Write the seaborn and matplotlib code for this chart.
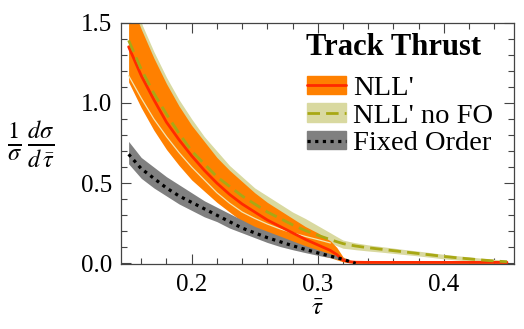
import numpy as np
import matplotlib
matplotlib.use("Agg")
import matplotlib.pyplot as plt
import seaborn as sns
from matplotlib.patches import Patch
from matplotlib.lines import Line2D
from matplotlib.legend_handler import HandlerTuple
from matplotlib.ticker import MultipleLocator

# %% data
tau = [0.15, 0.16, 0.17, 0.18, 0.19, 0.20, 0.21, 0.22, 0.23, 0.24, 0.25, 0.26, 0.27, 0.28,
       0.29, 0.30, 0.31, 0.315, 0.32, 0.325, 0.33, 0.34, 0.35, 0.36, 0.37, 0.38, 0.39, 0.40,
       0.41, 0.42, 0.43, 0.44, 0.45]

nll_mid = [1.35, 1.17, 1.02, 0.88, 0.77, 0.67, 0.58, 0.50, 0.43, 0.37, 0.32, 0.27, 0.23, 0.19,
           0.15, 0.115, 0.08, 0.055, 0.02, 0.01, 0.007, 0.006, 0.006, 0.006, 0.006, 0.006, 0.006,
           0.006, 0.006, 0.006, 0.006, 0.006, 0.006]
nll_hi = [1.66, 1.46, 1.28, 1.12, 0.98, 0.86, 0.76, 0.66, 0.58, 0.51, 0.44, 0.38, 0.33, 0.28,
          0.23, 0.19, 0.14, 0.10, 0.04, 0.02, 0.015, 0.013, 0.013, 0.013, 0.013, 0.013, 0.013,
          0.013, 0.013, 0.013, 0.013, 0.013, 0.013]
nll_lo = [1.13, 0.97, 0.83, 0.71, 0.61, 0.52, 0.45, 0.38, 0.32, 0.26, 0.21, 0.17, 0.135, 0.105,
          0.08, 0.055, 0.035, 0.022, 0.01, 0.003, 0.0, 0.0, 0.0, 0.0, 0.0, 0.0, 0.0,
          0.0, 0.0, 0.0, 0.0, 0.0, 0.0]

nofo_mid = [1.39, 1.21, 1.06, 0.93, 0.81, 0.70, 0.62, 0.54, 0.48, 0.42, 0.37, 0.32, 0.28, 0.24,
            0.205, 0.175, 0.148, 0.135, 0.123, 0.115, 0.108, 0.097, 0.088, 0.079, 0.070, 0.061,
            0.052, 0.043, 0.035, 0.028, 0.021, 0.015, 0.010]
nofo_hi = [1.72, 1.50, 1.32, 1.16, 1.02, 0.90, 0.79, 0.70, 0.61, 0.54, 0.47, 0.42, 0.37, 0.32,
           0.28, 0.235, 0.19, 0.167, 0.145, 0.136, 0.128, 0.115, 0.105, 0.095, 0.085, 0.076,
           0.066, 0.056, 0.048, 0.040, 0.032, 0.025, 0.020]
nofo_lo = [1.17, 1.03, 0.90, 0.79, 0.69, 0.60, 0.52, 0.44, 0.375, 0.32, 0.28, 0.245, 0.215, 0.19,
           0.168, 0.148, 0.127, 0.11, 0.094, 0.09, 0.085, 0.077, 0.07, 0.062, 0.054, 0.046,
           0.037, 0.028, 0.021, 0.015, 0.010, 0.006, 0.004]

tau_fo = [0.15, 0.16, 0.17, 0.18, 0.19, 0.20, 0.21, 0.22, 0.23, 0.24, 0.25, 0.26, 0.27, 0.28,
          0.29, 0.30, 0.31, 0.32, 0.33]
fo_mid = [0.68, 0.59, 0.53, 0.47, 0.42, 0.38, 0.34, 0.30, 0.26, 0.22, 0.19, 0.16, 0.135, 0.11,
          0.087, 0.065, 0.045, 0.025, 0.0]
fo_hi = [0.76, 0.66, 0.60, 0.54, 0.49, 0.44, 0.39, 0.35, 0.31, 0.27, 0.23, 0.20, 0.17, 0.14,
         0.11, 0.085, 0.06, 0.035, 0.005]
fo_lo = [0.62, 0.53, 0.47, 0.42, 0.37, 0.33, 0.29, 0.26, 0.22, 0.19, 0.16, 0.13, 0.105, 0.085,
         0.067, 0.05, 0.035, 0.018, 0.0]

labels = ["NLL'", "NLL' no FO", 'Fixed Order']

# %%
sns.set_style("ticks")
plt.rcParams['font.family'] = ['Liberation Serif', 'DejaVu Serif']
plt.rcParams['mathtext.fontset'] = 'stix'
plt.rcParams['text.color'] = 'black'
plt.rcParams['axes.labelcolor'] = 'black'

orange = '#ff8000'
khaki = '#d9d9a0'
olive = '#a8a814'
gray = '#808080'
red = '#ff2a00'

fig = plt.figure(figsize=(5.24, 3.29), dpi=100)
ax = fig.add_axes([0.2303, 0.1976, 0.7507, 0.7334])

ax.fill_between(tau, nofo_lo, nofo_hi, color=khaki, lw=0)
ax.fill_between(tau, nll_lo, nll_hi, color=orange, lw=0)
ax.fill_between(tau_fo, fo_lo, fo_hi, color=gray, lw=0)
ax.plot(tau[:17], nofo_lo[:17], color='#f3e6b0', lw=0.9)

sns.lineplot(x=tau, y=nll_mid, color=red, lw=2, ax=ax)
sns.lineplot(x=tau, y=nofo_mid, color=olive, lw=2, linestyle=(0, (4.5, 2.2)), ax=ax)
sns.lineplot(x=tau_fo, y=fo_mid, color='black', lw=2.3, linestyle=(0, (1.0, 1.4)), ax=ax)

ax.set_xlim(0.1437, 0.4556)
ax.set_ylim(-0.004, 1.5)
ax.xaxis.set_minor_locator(MultipleLocator(0.02))
ax.yaxis.set_minor_locator(MultipleLocator(0.1))
ax.tick_params(which='both', direction='in', top=True, right=True, color='#444444',
               labelcolor='black', labelsize=18)
ax.tick_params(axis='x', pad=7)
ax.tick_params(axis='y', pad=6)
ax.tick_params(which='major', length=7, width=0.8)
ax.tick_params(which='minor', length=4, width=0.8)
ax.set_yticks([0.0, 0.5, 1.0, 1.5])
ax.set_yticklabels(['0.0', '0.5', '1.0', '1.5'])
ax.set_xticks([0.2, 0.3, 0.4])
ax.set_xticklabels(['0.2', '0.3', '0.4'])
for s in ax.spines.values():
    s.set_color('#444444')
    s.set_linewidth(0.9)

ax.set_xlabel(r'$\bar{\tau}$', fontsize=18, labelpad=2)
ax.text(-0.228, 0.497, r'$\frac{\mathit{1}}{\sigma}\,\frac{d\sigma}{d\,\bar{\tau}}$',
        transform=ax.transAxes, fontsize=25, ha='center', va='center')

handles = [(Patch(color=orange), Line2D([], [], color=red, lw=2)),
           (Patch(color=khaki), Line2D([], [], color=olive, lw=2, linestyle=(0, (4.5, 2.2)))),
           (Patch(color=gray), Line2D([], [], color='black', lw=2.3, linestyle=(0, (1.0, 1.4))))]
leg = ax.legend(handles, labels,
                handler_map={tuple: HandlerTuple(ndivide=1)},
                loc='upper left', bbox_to_anchor=(0.437, 0.84),
                frameon=False, fontsize=20.5,
                handlelength=1.37, handleheight=0.6, handletextpad=0.25, labelspacing=0.1,
                borderpad=0)
ax.text(0.472, 0.899, 'Track Thrust', transform=ax.transAxes, fontsize=22,
        fontweight='bold', ha='left', va='center')

fig.savefig('out.png', dpi=100)
